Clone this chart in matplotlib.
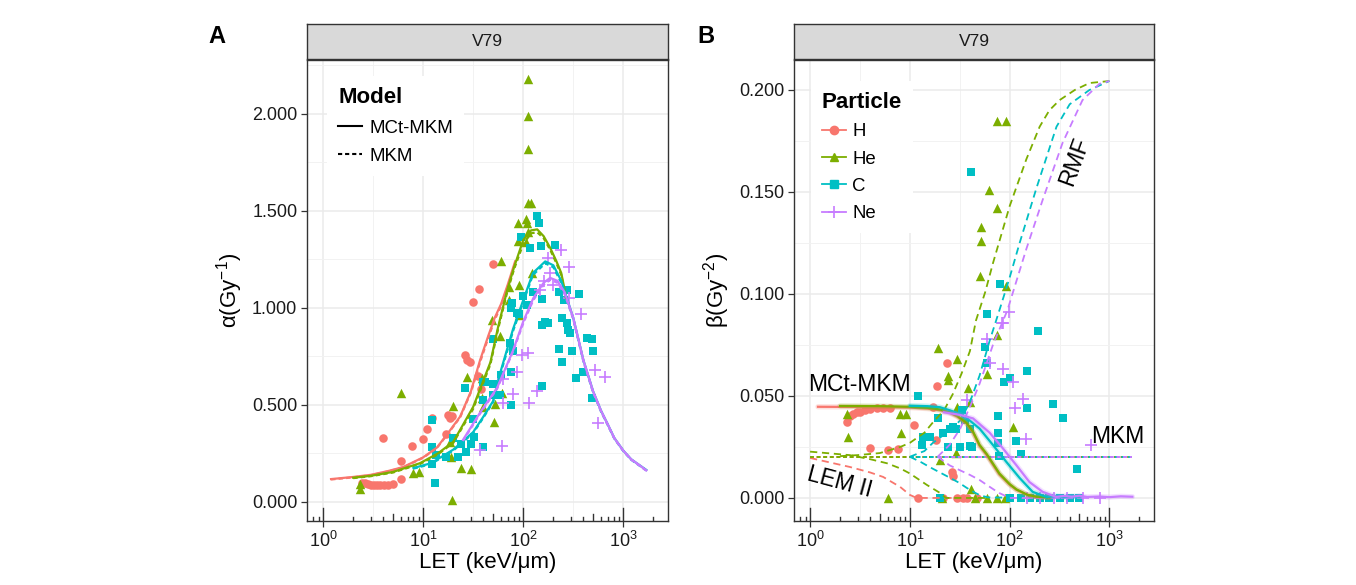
import matplotlib
matplotlib.use("Agg")
import matplotlib.pyplot as plt
from matplotlib.lines import Line2D
from matplotlib.ticker import FixedLocator, LogFormatterSciNotation, FormatStrFormatter

plt.rcParams['font.family'] = ['Liberation Sans', 'DejaVu Sans']
plt.rcParams['mathtext.fontset'] = 'custom'
plt.rcParams['mathtext.rm'] = 'Liberation Sans'
plt.rcParams['mathtext.it'] = 'Liberation Sans:italic'
plt.rcParams['mathtext.bf'] = 'Liberation Sans:bold'

particles = ['H', 'He', 'C', 'Ne']
colors = {'H': '#F8766D', 'He': '#7CAE00', 'C': '#00BFC4', 'Ne': '#C77CFF'}
markers = {'H': 'o', 'He': '^', 'C': 's', 'Ne': '+'}

# ---------------- panel A : alpha, measured points ----------------
h_a_let = [2.45, 2.63, 2.82, 3.02, 3.24, 3.47, 3.72, 4.07, 4.47, 5.01, 6.03, 3.98, 6.03, 7.76,
           10.0, 10.96, 12.3, 16.98, 17.8, 18.6, 19.5, 26.3, 27.5, 29.5, 35.5, 38.0, 31.6, 36.3, 50.1]
h_a_val = [0.098, 0.100, 0.093, 0.090, 0.088, 0.087, 0.087, 0.088, 0.090, 0.095, 0.119, 0.330, 0.210, 0.290,
           0.325, 0.376, 0.433, 0.350, 0.448, 0.433, 0.443, 0.758, 0.732, 0.722, 0.650, 0.582, 1.030, 1.100, 1.227]

he_a_let = [2.34, 2.34, 6.03, 7.94, 9.12, 19.5, 20.0, 19.1, 18.6, 24.0, 30.2, 27.5, 38.9, 38.9, 39.8,
            52.5, 51.3, 49.0, 58.9, 61.7, 91.2, 72.4, 91.2, 72.4, 60.3, 123, 112, 112, 112, 112, 120,
            107, 89, 110, 112, 89, 107]
he_a_val = [0.095, 0.065, 0.56, 0.15, 0.155, 0.01, 0.495, 0.23, 0.31, 0.175, 0.17, 0.645, 0.64, 0.535, 0.49,
            0.505, 0.41, 0.94, 0.855, 0.56, 0.965, 1.11, 1.12, 1.04, 1.24, 1.18, 2.18, 1.99, 1.82, 1.54, 1.54,
            1.46, 1.44, 1.44, 1.39, 1.345, 1.34]

c_a_let = [12.3, 12.3, 12.3, 13.2, 13.5, 17.0, 20.0, 22.4, 24.0, 26.3, 26.9, 30.2, 31.6, 32.4, 39.8, 39.8,
           39.8, 50, 50, 57.5, 60.3, 75.9, 75.9, 79.4, 76, 110, 155, 166, 178, 155, 245, 229, 309, 245,
           275, 282, 295, 339, 398, 437, 490, 501, 490, 138, 145, 95.5, 117, 151, 209, 126, 155, 100,
           78, 229, 275, 363, 257, 87, 91, 74, 50, 59, 41.7]
c_a_val = [0.42, 0.285, 0.195, 0.10, 0.24, 0.23, 0.33, 0.23, 0.30, 0.59, 0.26, 0.30, 0.43, 0.335, 0.62, 0.525,
           0.285, 0.84, 0.61, 0.55, 0.655, 0.67, 0.50, 0.78, 1.00, 1.015, 0.91, 0.93, 0.92, 0.60, 0.72, 0.79,
           0.78, 0.95, 0.92, 0.885, 0.87, 0.64, 0.67, 0.845, 0.84, 0.78, 0.535, 1.475, 1.44, 1.365, 1.31,
           1.32, 1.325, 1.08, 1.045, 1.06, 1.025, 1.08, 1.09, 1.07, 1.04, 0.974, 0.969, 0.82, 0.55, 0.55, 0.62]

ne_a_let = [148, 288, 380, 98, 112, 87, 63, 138, 79, 115, 63, 525, 661, 562, 240, 288, 178, 186, 62, 37,
            160, 200]
ne_a_val = [1.09, 1.05, 0.97, 0.76, 0.77, 0.67, 0.635, 0.57, 0.555, 0.51, 0.51, 0.68, 0.645, 0.405, 1.30,
            1.21, 1.26, 1.18, 0.29, 0.27, 1.14, 1.12]

# ---------------- panel A : model curves ----------------
h_a_mct_let = [1.2, 2, 3, 4.5, 6.3, 10, 13.7, 18, 23.4, 30, 37, 45, 52, 60, 70, 83]
h_a_mct = [0.118, 0.129, 0.14, 0.16, 0.18, 0.23, 0.28, 0.36, 0.44, 0.57, 0.73, 0.86, 0.95, 1.02, 1.12, 1.24]
h_a_mkm = [0.116, 0.127, 0.138, 0.158, 0.178, 0.228, 0.278, 0.357, 0.436, 0.565, 0.72, 0.85, 0.94, 1.01, 1.11, 1.23]

he_a_mct_let = [2, 3, 5, 9.3, 14, 20, 31.6, 47, 56, 69, 81, 100, 120, 138, 160, 186, 215, 240, 270]
he_a_mct = [0.125, 0.135, 0.155, 0.20, 0.25, 0.31, 0.49, 0.72, 0.90, 1.09, 1.21, 1.35, 1.40, 1.405, 1.37,
            1.31, 1.24, 1.18, 1.05]
he_a_mkm = [0.123, 0.133, 0.152, 0.196, 0.245, 0.305, 0.48, 0.71, 0.89, 1.08, 1.20, 1.33, 1.385, 1.39, 1.36,
            1.30, 1.23, 1.17, 1.04]

c_a_mct_let = [8, 12, 20, 31.6, 40, 50, 60, 79, 100, 125, 166, 200, 240, 316, 400, 500, 600, 700, 813,
               1000, 1200, 1450, 1700]
c_a_mct = [0.175, 0.20, 0.27, 0.36, 0.44, 0.52, 0.68, 0.89, 1.04, 1.18, 1.24, 1.22, 1.14, 0.95, 0.73, 0.57,
           0.47, 0.40, 0.33, 0.265, 0.22, 0.19, 0.165]
c_a_mkm = [0.172, 0.196, 0.265, 0.355, 0.435, 0.515, 0.67, 0.88, 1.03, 1.17, 1.23, 1.21, 1.13, 0.945, 0.725,
           0.565, 0.466, 0.397, 0.328, 0.263, 0.218, 0.188, 0.163]

ne_a_mct_let = [25, 37, 55, 79, 100, 126, 160, 186, 220, 260, 316, 400, 500, 600, 700, 813, 1000, 1200,
                1450, 1700]
ne_a_mct = [0.32, 0.46, 0.59, 0.78, 0.93, 1.05, 1.13, 1.155, 1.14, 1.08, 0.95, 0.73, 0.57, 0.47, 0.40, 0.33,
            0.265, 0.22, 0.19, 0.163]
ne_a_mkm = [0.315, 0.455, 0.585, 0.775, 0.92, 1.04, 1.12, 1.145, 1.13, 1.07, 0.945, 0.725, 0.565, 0.466,
            0.397, 0.328, 0.263, 0.218, 0.188, 0.161]

# ---------------- panel B : beta, measured points ----------------
h_b_let = [2.34, 2.51, 2.69, 2.95, 3.16, 3.55, 3.98, 4.68, 5.37, 6.31, 3.98, 6.0, 7.6, 10.96, 12.0, 17.0,
           18.2, 18.6, 23.4, 21.4, 26.3, 27, 29.5, 33.9, 37.2, 46.8]
h_b_val = [0.037, 0.040, 0.041, 0.042, 0.042, 0.043, 0.0436, 0.044, 0.044, 0.044, 0.0245, 0.0235, 0.024,
           0.036, 0.0, 0.0446, 0.0284, 0.055, 0.066, 0.0, 0.0127, 0.011, 0.0, 0.0, 0.0, 0.0]

he_b_let = [2.34, 2.4, 6.0, 7.9, 9.1, 8.1, 19, 20, 24, 24, 29, 30, 30, 38, 40, 41, 50, 52, 52, 60, 62, 74,
            74, 74, 91, 91, 107, 60, 89, 21, 45, 75]
he_b_val = [0.041, 0.030, 0.0, 0.041, 0.041, 0.032, 0.0735, 0.0186, 0.060, 0.058, 0.022, 0.068, 0.0446,
            0.054, 0.047, 0.0044, 0.109, 0.133, 0.126, 0.061, 0.151, 0.142, 0.080, 0.185, 0.185, 0.104,
            0.035, 0.0, 0.0, 0.0, 0.0, 0.0]

c_b_let = [12, 13.2, 13.5, 15.8, 19, 21.4, 24, 25, 27, 29, 32, 33, 40, 40, 42, 20, 40.7, 81, 60, 191, 57,
           59, 151, 87, 102, 151, 275, 339, 76, 76, 76, 117, 79, 129, 479, 100, 130, 160, 200, 250, 320,
           400, 500, 36]
c_b_val = [0.050, 0.026, 0.030, 0.030, 0.039, 0.032, 0.025, 0.034, 0.035, 0.034, 0.025, 0.043, 0.034,
           0.0255, 0.025, 0.0, 0.160, 0.105, 0.090, 0.082, 0.074, 0.066, 0.062, 0.057, 0.059, 0.044, 0.046,
           0.039, 0.040, 0.032, 0.027, 0.028, 0.0206, 0.0215, 0.014, 0.0, 0.0, 0.0, 0.0, 0.0, 0.0, 0.0, 0.0,
           0.038]

ne_b_let = [37, 60, 63, 83, 85, 85, 98, 107, 114, 135, 147, 661, 150, 200, 280, 380, 550, 800]
ne_b_val = [0.048, 0.078, 0.066, 0.086, 0.086, 0.063, 0.091, 0.057, 0.044, 0.0485, 0.029, 0.026, 0.0,
            0.0, 0.0, 0.0, 0.0, 0.0]

# ---------------- panel B : model curves ----------------
h_b_mct_let = [1.2, 3, 6, 10, 15, 20, 25, 30, 37, 43, 50, 59, 79, 100, 117, 150, 186, 250]
h_b_mct = [0.0447, 0.0446, 0.0445, 0.0443, 0.0438, 0.0430, 0.0418, 0.0398, 0.0365, 0.032, 0.0255, 0.021,
           0.0115, 0.0065, 0.004, 0.0015, 0.0006, 0.0003]
he_b_mct_let = [2, 5, 10, 15, 20, 25, 30, 37, 43, 50, 59, 79, 100, 117, 150, 186, 250]
he_b_mct = [0.0451, 0.045, 0.0447, 0.0442, 0.0434, 0.0422, 0.0402, 0.0368, 0.0325, 0.026, 0.0215, 0.012,
            0.0068, 0.0042, 0.0016, 0.0006, 0.0003]
c_b_mct_let = [10, 15, 20, 25, 34, 50, 68, 93, 126, 170, 234, 300, 350, 420, 500]
c_b_mct = [0.0452, 0.0450, 0.0445, 0.043, 0.0407, 0.034, 0.026, 0.0176, 0.0098, 0.003, 0.0005, 0.0009,
           0.0004, 0.0008, 0.0006]
ne_b_mct_let = [22, 32, 43, 63, 85, 117, 158, 214, 295, 350, 420, 500, 600, 800, 1000, 1300, 1700]
ne_b_mct = [0.042, 0.0407, 0.039, 0.032, 0.0245, 0.016, 0.0078, 0.003, 0.0005, 0.0010, 0.0006, 0.0011,
            0.0005, 0.0007, 0.0004, 0.0008, 0.0006]

# MKM (constant beta)
mkm_beta = 0.0202
mkm_start = {'H': 1.0, 'He': 1.0, 'C': 10, 'Ne': 19}
mkm_end = 1700

# LEM II
h_b_lem_let = [1, 2.5, 4, 5.4, 8, 10, 11.7, 30]
h_b_lem = [0.0196, 0.0152, 0.0125, 0.0103, 0.0054, 0.0015, 0.0, 0.0]
he_b_lem_let = [1, 2.5, 4, 5.9, 8, 10, 14.8, 20, 23, 60]
he_b_lem = [0.0227, 0.021, 0.019, 0.017, 0.0145, 0.012, 0.0064, 0.0025, 0.0, 0.0]
c_b_lem_let = [10, 13, 16, 20, 25, 31, 37, 44, 50, 60, 150]
c_b_lem = [0.0202, 0.0175, 0.015, 0.0125, 0.010, 0.0075, 0.005, 0.0028, 0.0014, 0.0003, 0.0]
ne_b_lem_let = [19, 25, 32, 40, 50, 59, 70, 79, 100, 200]
ne_b_lem = [0.0202, 0.016, 0.0135, 0.0113, 0.0088, 0.0064, 0.004, 0.0024, 0.0, 0.0]

# RMF
he_b_rmf_let = [2, 3, 5, 8, 10, 14, 17, 22, 27, 33, 40, 46, 57, 68, 100, 147, 200, 250, 316, 450, 631, 1000]
he_b_rmf = [0.0205, 0.021, 0.022, 0.025, 0.027, 0.032, 0.037, 0.043, 0.051, 0.061, 0.072, 0.087, 0.101,
            0.115, 0.143, 0.166, 0.182, 0.19, 0.195, 0.200, 0.2034, 0.2044]
c_b_rmf_let = [10, 14, 17, 25, 32, 40, 50, 63, 79, 100, 126, 186, 295, 400, 631, 1000]
c_b_rmf = [0.0202, 0.023, 0.027, 0.033, 0.038, 0.047, 0.060, 0.077, 0.092, 0.108, 0.125, 0.152, 0.182,
           0.193, 0.200, 0.2044]
ne_b_rmf_let = [19, 25, 32, 42, 50, 68, 95, 147, 214, 339, 537, 794, 1000]
ne_b_rmf = [0.0202, 0.026, 0.034, 0.047, 0.056, 0.075, 0.092, 0.122, 0.146, 0.174, 0.195, 0.203, 0.2044]

pts_a = {'H': (h_a_let, h_a_val), 'He': (he_a_let, he_a_val), 'C': (c_a_let, c_a_val), 'Ne': (ne_a_let, ne_a_val)}
mct_a = {'H': (h_a_mct_let, h_a_mct), 'He': (he_a_mct_let, he_a_mct), 'C': (c_a_mct_let, c_a_mct),
         'Ne': (ne_a_mct_let, ne_a_mct)}
mkm_a = {'H': (h_a_mct_let, h_a_mkm), 'He': (he_a_mct_let, he_a_mkm), 'C': (c_a_mct_let, c_a_mkm),
         'Ne': (ne_a_mct_let, ne_a_mkm)}
pts_b = {'H': (h_b_let, h_b_val), 'He': (he_b_let, he_b_val), 'C': (c_b_let, c_b_val), 'Ne': (ne_b_let, ne_b_val)}
mct_b = {'H': (h_b_mct_let, h_b_mct), 'He': (he_b_mct_let, he_b_mct), 'C': (c_b_mct_let, c_b_mct),
         'Ne': (ne_b_mct_let, ne_b_mct)}
lem_b = {'H': (h_b_lem_let, h_b_lem), 'He': (he_b_lem_let, he_b_lem), 'C': (c_b_lem_let, c_b_lem),
         'Ne': (ne_b_lem_let, ne_b_lem)}
rmf_b = {'He': (he_b_rmf_let, he_b_rmf), 'C': (c_b_rmf_let, c_b_rmf), 'Ne': (ne_b_rmf_let, ne_b_rmf)}

DARK = '#333333'
GRID = '#EBEBEB'
W, H = 1356, 585
MKM_DASH = (2.0, 1.4)
LONG_DASH = (4.0, 2.6)


def frac(px_l, px_t, px_w, px_h):
    return [px_l / W, 1 - (px_t + px_h) / H, px_w / W, px_h / H]


def scatter_points(ax, data):
    for p in particles:
        x, y = data[p]
        if markers[p] == '+':
            ax.scatter(x, y, marker='+', s=80, color=colors[p], linewidths=1.2, zorder=3)
        elif markers[p] == '^':
            ax.scatter(x, y, marker='^', s=46, color=colors[p], linewidths=0, zorder=3)
        else:
            ax.scatter(x, y, marker=markers[p], s=38, color=colors[p], linewidths=0, zorder=3)


def style_panel(ax, ylim, yticks, yminor, fmt):
    ax.set_xscale('log')
    ax.set_xlim(0.69, 2800)
    ax.set_ylim(*ylim)
    ax.xaxis.set_major_locator(FixedLocator([1, 10, 100, 1000]))
    ax.xaxis.set_major_formatter(LogFormatterSciNotation())
    ax.xaxis.set_minor_locator(FixedLocator([10 ** (d + 0.5) for d in range(-1, 4)]))
    ax.yaxis.set_major_locator(FixedLocator(yticks))
    ax.yaxis.set_minor_locator(FixedLocator(yminor))
    ax.yaxis.set_major_formatter(FormatStrFormatter(fmt))
    ax.grid(True, which='major', color=GRID, lw=1.1, zorder=0)
    ax.grid(True, which='minor', color='#F2F2F2', lw=0.7, zorder=0)
    ax.set_axisbelow(True)
    ax.tick_params(which='major', direction='out', length=4, width=0.9, color=DARK,
                   labelsize=13, labelcolor='#1a1a1a', pad=3)
    ax.tick_params(which='minor', length=0)
    for s in ax.spines.values():
        s.set_color(DARK)
        s.set_linewidth(1.0)
    ax.set_xlabel('LET (keV/μm)', fontsize=16, labelpad=1)
    # log tick annotation along the bottom
    trans = ax.get_xaxis_transform()
    for d in range(-1, 4):
        for k in range(1, 10):
            v = k * 10.0 ** d
            if v < 0.75 or v > 2100:
                continue
            h = 0.028 if k == 1 else (0.016 if k == 5 else 0.009)
            ax.plot([v, v], [0, h], transform=trans, color=DARK, lw=1.0, zorder=4)


def strip(px_l, px_w):
    s = fig.add_axes(frac(px_l, 24, px_w, 35))
    s.set_facecolor('#D9D9D9')
    s.set_xticks([])
    s.set_yticks([])
    for sp in s.spines.values():
        sp.set_color(DARK)
        sp.set_linewidth(1.0)
    s.text(0.5, 0.5, 'V79', ha='center', va='center', fontsize=12.5, color='#1a1a1a', transform=s.transAxes)


fig = plt.figure(figsize=(W / 100, H / 100), dpi=100)

# ---------------- panel A ----------------
axA = fig.add_axes(frac(307, 60, 361, 461))
style_panel(axA, (-0.098, 2.278), [0, 0.5, 1.0, 1.5, 2.0], [0.25, 0.75, 1.25, 1.75, 2.25], '%.3f')
scatter_points(axA, pts_a)
for p in particles:
    axA.plot(*mct_a[p], color=colors[p], lw=1.6, zorder=4)
    axA.plot(*mkm_a[p], color=colors[p], lw=1.6, dashes=MKM_DASH, zorder=4)
axA.set_ylabel('α(Gy$^{-1}$)', fontsize=16, labelpad=5)
strip(307, 361)

legA = axA.legend(handles=[Line2D([], [], color='black', lw=1.5),
                           Line2D([], [], color='black', lw=1.5, dashes=MKM_DASH)],
                  labels=['MCt-MKM', 'MKM'], title='Model', loc='upper left',
                  bbox_to_anchor=(0.03, 0.985), frameon=True, fancybox=False, framealpha=1,
                  edgecolor='none', facecolor='white', fontsize=13.4, handlelength=1.3,
                  handletextpad=0.35, labelspacing=0.6, borderpad=0.6, alignment='left',
                  title_fontproperties={'weight': 'bold', 'size': 16})
legA.set_zorder(5)

# ---------------- panel B ----------------
axB = fig.add_axes(frac(794, 60, 360, 461))
style_panel(axB, (-0.0113, 0.2147), [0, 0.05, 0.1, 0.15, 0.2], [0.025, 0.075, 0.125, 0.175], '%.3f')
scatter_points(axB, pts_b)
for p in particles:
    axB.plot([mkm_start[p], mkm_end], [mkm_beta, mkm_beta], color=colors[p], lw=1.4, dashes=MKM_DASH, zorder=4)
    axB.plot(*lem_b[p], color=colors[p], lw=1.3, dashes=LONG_DASH, zorder=4)
    if p in rmf_b:
        axB.plot(*rmf_b[p], color=colors[p], lw=1.3, dashes=LONG_DASH, zorder=4)
for p in particles:
    axB.plot(*mct_b[p], color=colors[p], lw=3.8, alpha=0.22, solid_capstyle='round', zorder=4)
    axB.plot(*mct_b[p], color=colors[p], lw=1.6, zorder=4)
axB.set_ylabel('β(Gy$^{-2}$)', fontsize=16, labelpad=5)
strip(794, 360)

axB.text(3.16, 0.0555, 'MCt-MKM', fontsize=16.5, ha='center', va='center', zorder=6)
axB.text(2.0, 0.0078, 'LEM II', fontsize=16.5, ha='center', va='center', rotation=-15, zorder=6)
axB.text(1200, 0.030, 'MKM', fontsize=16.5, ha='center', va='center', zorder=6)
axB.text(447, 0.165, 'RMF', fontsize=16.5, ha='center', va='center', rotation=70, zorder=6)

handlesB = []
for p in particles:
    if markers[p] == '+':
        handlesB.append(Line2D([], [], color=colors[p], lw=1.3, marker='+', markersize=9, markeredgewidth=1.2))
    else:
        handlesB.append(Line2D([], [], color=colors[p], lw=1.3, marker=markers[p], markersize=6))
legB = axB.legend(handles=handlesB, labels=particles, title='Particle', loc='upper left',
                  bbox_to_anchor=(0.02, 0.975), frameon=True, fancybox=False, framealpha=1,
                  edgecolor='none', facecolor='white', fontsize=13.4, handlelength=1.3,
                  handletextpad=0.35, labelspacing=0.55, borderpad=0.6, alignment='left',
                  title_fontproperties={'weight': 'bold', 'size': 16})
legB.set_zorder(5)

fig.text(208 / W, 1 - 25 / H, 'A', fontsize=17, fontweight='bold', ha='left', va='top')
fig.text(697 / W, 1 - 25 / H, 'B', fontsize=17, fontweight='bold', ha='left', va='top')

fig.savefig('out.png', dpi=100)
